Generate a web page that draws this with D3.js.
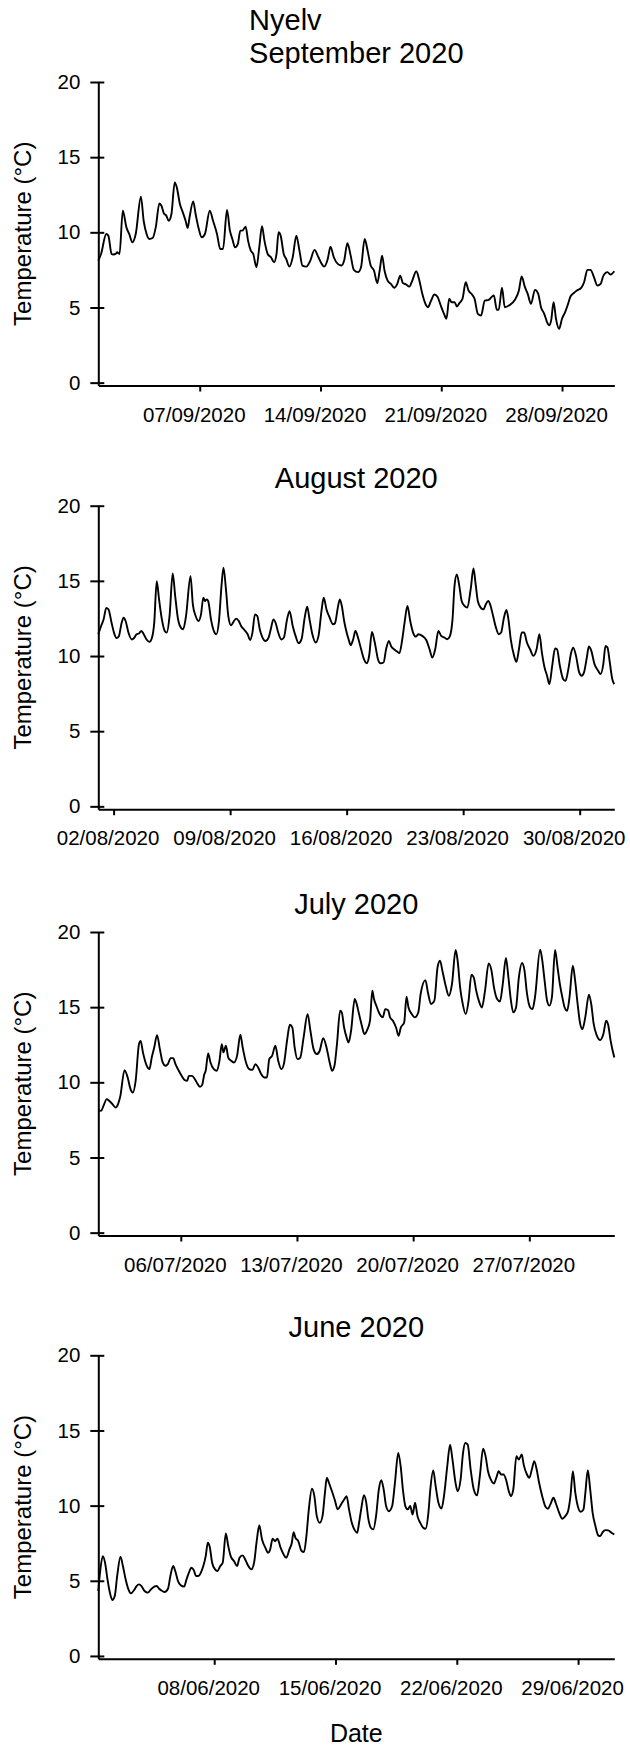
<!DOCTYPE html>
<html><head><meta charset="utf-8">
<script src="https://cdn.jsdelivr.net/npm/d3@7"></script>
<style>
body{margin:0;background:#fff}
svg{display:block}
text{font-family:"Liberation Sans",Arial,Helvetica,sans-serif;fill:#000}
</style>
</head><body>
<svg id="chart" width="630" height="1746"></svg>
<script>
// ---------------- DATA ----------------
const siteName = "Nyelv";
const panelTitles = ["September 2020", "August 2020", "July 2020", "June 2020"];
const monthStarts = ["2020-09-01", "2020-08-01", "2020-07-01", "2020-06-01"];
const yTicks = [0, 5, 10, 15, 20];
const yLabel = "Temperature (°C)";
const xLabel = "Date";

const sepTicks = ["2020-09-07", "2020-09-14", "2020-09-21", "2020-09-28"];
const augTicks = ["2020-08-02", "2020-08-09", "2020-08-16", "2020-08-23", "2020-08-30"];
const julTicks = ["2020-07-06", "2020-07-13", "2020-07-20", "2020-07-27"];
const junTicks = ["2020-06-08", "2020-06-15", "2020-06-22", "2020-06-29"];

// days elapsed since the first of the month, and water temperature (°C)
const sepDay = [0.12,0.28,0.58,0.70,0.89,0.98,1.17,1.21,1.35,1.54,1.75,1.91,2.10,2.29,2.59,2.75,2.92,3.08,3.27,3.45,3.66,3.78,3.92,4.06,4.20,4.36,4.55,4.67,4.85,5.02,5.18,5.30,5.41,5.62,5.76,5.93,6.11,6.30,6.58,6.77,7.00,7.19,7.35,7.58,7.75,7.89,8.05,8.21,8.35,8.47,8.66,8.80,8.96,9.10,9.29,9.45,9.61,9.75,9.94,10.13,10.31,10.45,10.57,10.69,10.87,11.01,11.20,11.39,11.60,11.78,11.95,12.18,12.41,12.65,12.88,13.07,13.21,13.42,13.58,13.77,14.00,14.23,14.37,14.56,14.75,14.93,15.17,15.35,15.56,15.73,15.91,16.10,16.29,16.43,16.57,16.71,16.89,17.08,17.27,17.45,17.62,17.78,17.97,18.15,18.32,18.55,18.71,18.90,19.13,19.23,19.41,19.60,19.79,19.97,20.16,20.30,20.46,20.60,20.77,20.91,21.05,21.23,21.42,21.58,21.75,21.93,22.12,22.31,22.52,22.75,22.91,23.05,23.22,23.33,23.52,23.68,23.92,24.27,24.50,24.66,24.85,25.01,25.20,25.43,25.62,25.78,25.97,26.13,26.27,26.37,26.51,26.65,26.83,27.00,27.18,27.35,27.49,27.67,27.86,28.11,28.28,28.47,28.65,28.84,29.05,29.24,29.40,29.63,29.82,30.03];
const sepTemp = [8.12,8.56,9.89,9.78,8.56,8.52,8.61,8.67,8.56,11.44,10.33,9.89,9.34,9.89,12.37,10.77,9.89,9.56,9.62,10.33,11.92,11.77,11.26,11.11,10.77,11.22,13.32,12.99,11.88,11.33,10.77,10.29,11.0,12.06,11.22,10.29,9.67,9.89,11.44,10.77,9.89,8.89,8.89,11.48,10.11,9.56,9.0,9.23,10.11,10.11,10.38,9.45,8.78,8.56,7.68,9.0,10.4,9.45,8.56,8.34,8.01,8.56,10.0,9.78,8.56,8.23,7.72,8.34,9.78,8.78,7.79,7.72,8.12,8.83,8.34,7.9,7.72,8.23,9.05,8.34,7.9,7.79,8.12,9.27,8.45,7.5,7.35,7.68,9.56,8.78,7.79,7.46,6.62,7.46,8.45,7.46,6.79,6.57,6.31,6.57,7.12,6.62,6.53,6.39,6.79,7.41,6.9,5.91,5.13,5.02,5.46,5.86,5.69,5.13,4.58,4.25,5.58,5.35,5.35,5.07,5.29,5.58,6.68,6.13,5.91,5.58,4.58,4.47,5.46,5.51,5.69,5.8,4.85,4.85,6.31,5.02,5.13,5.51,6.13,7.06,6.35,5.91,5.24,6.17,5.91,5.02,4.58,4.03,3.81,4.14,5.35,4.25,3.58,4.25,4.69,5.24,5.73,5.95,6.13,6.31,6.68,7.5,7.5,7.06,6.46,6.57,7.12,7.35,7.19,7.41];

const augDay = [0.08,0.25,0.40,0.56,0.69,0.88,1.02,1.17,1.31,1.48,1.60,1.73,1.89,2.09,2.23,2.38,2.52,2.67,2.81,2.98,3.15,3.30,3.44,3.59,3.73,3.90,4.07,4.19,4.36,4.55,4.70,4.87,5.04,5.18,5.35,5.62,5.76,5.93,6.10,6.25,6.39,6.49,6.59,6.68,6.85,7.02,7.17,7.33,7.48,7.60,7.75,7.89,8.06,8.23,8.37,8.52,8.66,8.86,9.05,9.20,9.34,9.49,9.63,9.78,9.92,10.12,10.31,10.45,10.60,10.74,10.89,11.08,11.23,11.42,11.57,11.76,11.93,12.12,12.29,12.48,12.63,12.77,12.94,13.14,13.31,13.50,13.62,13.79,13.98,14.18,14.30,14.47,14.59,14.71,14.85,15.00,15.12,15.24,15.39,15.53,15.68,15.87,16.04,16.21,16.35,16.52,16.69,16.88,17.03,17.22,17.37,17.54,17.68,17.85,18.05,18.17,18.34,18.48,18.65,18.82,18.99,19.16,19.30,19.54,19.79,19.98,20.15,20.32,20.51,20.68,20.87,21.04,21.19,21.36,21.48,21.62,21.77,21.91,22.08,22.25,22.45,22.62,22.74,22.88,23.05,23.22,23.36,23.51,23.65,23.80,23.97,24.14,24.28,24.45,24.60,24.72,24.86,25.06,25.20,25.35,25.52,25.66,25.83,26.02,26.22,26.41,26.58,26.73,26.89,27.04,27.18,27.35,27.52,27.64,27.81,28.01,28.15,28.32,28.49,28.61,28.78,28.97,29.12,29.26,29.43,29.55,29.70,29.89,30.11,30.26,30.42,30.55,30.67,30.81,30.96,31.08];
const augTemp = [11.45,12.0,12.44,13.2,13.1,12.2,11.56,11.2,11.3,12.2,12.55,12.3,11.56,11.1,11.2,11.45,11.5,11.67,11.45,11.1,10.94,11.2,12.2,14.98,13.77,12.44,11.67,11.56,12.66,15.49,13.99,12.44,11.89,11.78,12.66,15.31,13.44,12.66,12.33,12.77,13.88,13.66,13.77,13.66,12.44,11.67,11.45,12.33,14.65,15.87,14.43,12.66,12.04,12.33,12.49,12.33,12.0,11.73,11.45,11.07,11.56,12.77,12.66,11.78,11.29,11.0,11.23,11.82,12.44,12.18,11.56,11.1,11.23,12.44,12.99,12.0,11.34,10.85,11.12,12.55,13.28,12.44,11.45,10.9,11.34,13.1,13.88,13.1,12.55,12.11,12.18,13.22,13.77,13.33,12.33,11.56,11.1,10.72,11.1,11.67,11.23,10.45,9.79,9.52,10.0,11.6,10.9,9.79,9.52,9.57,10.45,11.0,10.63,10.45,10.28,10.19,11.1,12.22,13.33,12.33,11.56,11.29,11.45,11.34,11.05,10.45,9.9,10.45,11.67,11.34,11.23,11.12,11.29,12.44,14.65,15.43,14.65,13.66,13.33,13.22,14.43,15.82,14.87,13.66,13.22,13.1,13.44,13.66,13.33,12.66,11.89,11.45,11.56,12.55,13.06,12.44,11.1,10.01,9.61,10.45,11.56,11.56,10.9,10.45,10.01,10.45,11.45,10.23,9.24,8.69,8.13,9.35,10.5,10.45,9.35,8.46,8.35,9.13,10.23,10.56,10.01,8.91,8.69,8.91,9.9,10.63,10.34,9.46,9.02,8.8,9.46,10.67,10.56,9.57,8.46,8.13];

const julDay = [0.03,0.20,0.34,0.54,0.68,0.88,1.07,1.22,1.36,1.61,1.80,1.97,2.11,2.28,2.48,2.58,2.72,2.91,3.11,3.25,3.40,3.57,3.74,3.91,4.08,4.22,4.39,4.54,4.68,4.88,5.05,5.24,5.39,5.48,5.68,5.85,6.02,6.16,6.29,6.41,6.50,6.65,6.79,6.99,7.18,7.33,7.47,7.57,7.72,7.86,8.03,8.20,8.39,8.59,8.73,8.93,9.12,9.32,9.49,9.66,9.85,10.04,10.19,10.33,10.50,10.70,10.87,11.06,11.21,11.40,11.57,11.72,11.86,12.03,12.20,12.40,12.64,12.81,13.00,13.20,13.37,13.58,13.78,13.97,14.12,14.26,14.41,14.60,14.70,14.84,14.99,15.11,15.26,15.48,15.57,15.74,15.91,16.06,16.25,16.40,16.54,16.64,16.78,16.98,17.17,17.32,17.49,17.61,17.78,17.97,18.12,18.26,18.46,18.60,18.72,18.92,19.11,19.31,19.45,19.74,19.89,20.08,20.28,20.47,20.62,20.76,20.96,21.15,21.34,21.56,21.68,21.83,21.97,22.17,22.34,22.51,22.65,22.80,22.99,23.14,23.33,23.55,23.72,23.87,24.06,24.23,24.40,24.59,24.74,24.88,25.03,25.20,25.37,25.56,25.71,25.85,26.05,26.19,26.34,26.65,26.77,26.92,27.07,27.21,27.36,27.55,27.70,27.84,27.99,28.13,28.28,28.42,28.62,28.76,28.91,29.05,29.20,29.37,29.59,29.73,29.88,30.07,30.27,30.46,30.63,30.75,30.90,31.12];
const julTemp = [8.15,8.1,8.43,8.88,8.77,8.55,8.32,8.55,9.1,10.81,10.32,9.55,9.32,10.1,12.54,12.76,11.99,11.21,10.88,11.65,12.32,13.14,12.21,11.32,11.1,11.21,11.61,11.61,11.21,10.77,10.43,10.14,10.1,10.43,10.43,10.21,9.88,9.7,9.83,10.5,10.77,11.92,11.32,10.88,10.77,11.43,12.54,11.99,12.43,11.65,11.43,11.32,11.76,13.16,12.32,11.32,10.88,10.83,11.21,10.99,10.54,10.32,10.32,11.54,11.76,12.43,11.43,10.88,11.21,12.76,13.83,13.65,12.32,11.54,11.65,12.99,14.54,13.43,12.21,11.88,12.1,12.94,12.32,11.32,10.77,11.1,12.54,14.76,14.65,13.65,12.99,12.65,13.43,15.54,15.32,14.54,13.76,13.21,13.54,14.1,16.09,15.54,15.1,14.54,14.32,14.87,14.8,14.32,14.1,13.65,13.1,13.65,13.98,15.69,14.98,14.54,14.32,14.65,15.87,16.8,15.98,15.21,15.43,17.65,18.09,17.43,16.43,15.76,16.54,18.8,18.09,16.32,15.32,14.54,15.43,17.16,16.98,16.09,15.32,14.98,16.09,17.91,17.43,16.32,15.54,15.38,16.54,18.27,16.98,15.54,14.65,14.98,16.98,17.94,17.43,15.98,14.98,14.87,15.65,18.82,18.2,16.76,15.43,15.1,15.65,18.8,17.65,16.54,15.65,14.98,14.76,15.65,17.76,16.76,15.21,13.98,13.54,14.32,15.83,15.21,13.87,13.1,12.81,13.21,14.1,13.83,12.76,11.65];

const junDay = [0.31,0.43,0.57,0.70,0.84,0.98,1.12,1.26,1.40,1.59,1.73,1.89,2.05,2.19,2.38,2.52,2.66,2.80,2.98,3.17,3.35,3.54,3.68,3.82,4.00,4.14,4.33,4.47,4.63,4.75,4.91,5.07,5.26,5.40,5.54,5.68,5.82,5.95,6.09,6.23,6.37,6.51,6.63,6.74,6.88,7.05,7.19,7.35,7.49,7.67,7.81,7.95,8.14,8.32,8.46,8.63,8.79,8.95,9.14,9.30,9.44,9.60,9.76,9.95,10.11,10.23,10.37,10.51,10.65,10.83,11.00,11.16,11.34,11.48,11.58,11.69,11.85,12.04,12.18,12.32,12.46,12.64,12.78,12.92,13.09,13.25,13.39,13.50,13.62,13.76,13.95,14.13,14.32,14.50,14.64,14.78,14.94,15.11,15.25,15.36,15.48,15.64,15.76,15.90,16.04,16.18,16.34,16.50,16.64,16.78,16.92,17.08,17.27,17.43,17.62,17.76,17.89,18.03,18.17,18.31,18.45,18.59,18.73,18.89,19.06,19.20,19.36,19.47,19.64,19.78,19.94,20.12,20.26,20.45,20.61,20.75,20.91,21.05,21.22,21.36,21.49,21.63,21.80,21.98,22.17,22.33,22.52,22.66,22.80,22.96,23.14,23.28,23.42,23.56,23.70,23.84,24.00,24.12,24.26,24.44,24.58,24.75,24.86,25.05,25.19,25.33,25.47,25.61,25.75,25.93,26.12,26.26,26.40,26.58,26.72,26.91,27.09,27.26,27.42,27.56,27.70,27.84,27.98,28.14,28.31,28.42,28.56,28.70,28.84,29.00,29.16,29.28,29.42,29.58,29.74,29.93,30.09];
const junTemp = [4.32,5.76,6.64,6.2,5.09,4.21,3.72,3.99,5.32,6.6,5.98,5.09,4.43,4.16,4.39,4.65,4.76,4.65,4.32,4.21,4.43,4.61,4.65,4.47,4.32,4.25,4.47,5.32,5.98,5.65,4.98,4.7,4.61,5.09,5.54,5.87,5.71,5.32,5.32,5.54,5.98,6.64,7.53,7.26,6.2,5.76,5.65,5.98,6.2,8.15,7.31,6.64,6.31,5.98,6.53,6.69,6.42,6.02,5.76,6.2,7.53,8.68,7.75,7.2,6.87,7.09,7.8,7.64,7.8,7.2,6.76,6.53,7.09,7.53,8.24,7.86,7.64,6.98,6.91,7.97,9.75,11.12,10.63,9.3,8.86,9.3,10.85,11.85,11.52,11.07,10.41,9.75,10.08,10.41,10.63,9.75,8.86,8.37,8.19,8.86,9.75,10.7,10.3,9.08,8.53,8.42,9.3,11.07,11.69,11.07,9.97,9.63,9.97,11.52,13.51,12.62,11.07,9.97,9.75,9.97,9.41,10.19,9.3,8.86,8.53,8.46,9.52,11.07,12.34,11.3,10.19,9.81,10.63,12.62,14.06,13.07,11.63,10.96,11.74,13.51,14.17,14.06,12.4,11.07,10.68,11.96,13.78,13.29,12.29,11.74,11.47,11.85,12.29,12.07,12.07,11.74,10.96,10.63,11.07,13.29,13.07,13.4,12.73,12.07,11.85,12.4,12.96,12.4,11.52,10.63,9.92,9.79,10.08,10.52,10.14,9.52,9.13,9.3,9.63,10.63,12.29,10.85,9.97,9.59,9.75,10.85,12.36,11.07,9.52,8.64,8.02,7.97,8.24,8.37,8.35,8.19,8.08];

// ---------------- CHART ----------------
const svg = d3.select("#chart");
const parseDay = d3.timeParse("%Y-%m-%d");
const fmt = d3.timeFormat("%d/%m/%Y");
const DAY = 86400000;

const series = [
  {title: panelTitles[0], start: monthStarts[0], days: sepDay, temps: sepTemp, ticks: sepTicks},
  {title: panelTitles[1], start: monthStarts[1], days: augDay, temps: augTemp, ticks: augTicks},
  {title: panelTitles[2], start: monthStarts[2], days: julDay, temps: julTemp, ticks: julTicks},
  {title: panelTitles[3], start: monthStarts[3], days: junDay, temps: junTemp, ticks: junTicks}
];

const plotLeft = 98.3, plotRight = 614.3;
const panelTops = [82, 505.7, 932, 1355.3];
const plotH = 303.5;
const centerX = (plotLeft + plotRight) / 2;

series.forEach((s, i) => {
  const t0 = parseDay(s.start).getTime();
  const pts = s.days.map((d, k) => ({t: new Date(t0 + d * DAY), v: s.temps[k]}));
  const top = panelTops[i], bottom = top + plotH;

  const x = d3.scaleTime().domain(d3.extent(pts, p => p.t)).range([plotLeft, plotRight]);
  const y = d3.scaleLinear().domain([-0.19, 20]).range([bottom, top]);

  const g = svg.append("g");

  // y axis
  const ya = g.append("g").attr("transform", `translate(${plotLeft},0)`)
    .call(d3.axisLeft(y).tickValues(yTicks).tickSizeInner(8).tickSizeOuter(0).tickPadding(10));
  ya.select(".domain").attr("stroke", "#000").attr("stroke-width", 2);
  ya.selectAll(".tick line").attr("x1", 6).attr("stroke", "#000").attr("stroke-width", 2);
  ya.selectAll(".tick text").attr("font-size", "20.5px")
    .style("font-family", '"Liberation Sans", Arial, sans-serif').attr("fill", "#000");

  // x axis
  const xa = g.append("g").attr("transform", `translate(0,${bottom})`)
    .call(d3.axisBottom(x).tickValues(s.ticks.map(parseDay)).tickFormat(fmt)
      .tickSizeInner(6).tickSizeOuter(0));
  xa.select(".domain").attr("stroke", "#000").attr("stroke-width", 2);
  xa.selectAll(".tick line").attr("stroke", "#000").attr("stroke-width", 2);
  xa.selectAll(".tick text").attr("font-size", "20.5px")
    .style("font-family", '"Liberation Sans", Arial, sans-serif').attr("fill", "#000")
    .attr("dy", null).attr("y", 36).attr("x", -6);

  // line
  const line = d3.line().x(p => x(p.t)).y(p => y(p.v)).curve(d3.curveMonotoneX);
  g.append("path").datum(pts).attr("d", line)
    .attr("fill", "none").attr("stroke", "#000").attr("stroke-width", 1.9)
    .attr("stroke-linejoin", "round");

  // y label
  g.append("text")
    .attr("transform", `translate(31,${(top + bottom) / 2}) rotate(-90)`)
    .attr("text-anchor", "middle").attr("font-size", "24px").text(yLabel);

  // title
  if (i === 0) {
    const l2 = g.append("text").attr("y", top - 18.7).attr("font-size", "29px").text(s.title);
    const w = l2.node().getComputedTextLength();
    const left = centerX - w / 2;
    l2.attr("x", left);
    g.append("text").attr("x", left).attr("y", top - 52).attr("font-size", "29px").text(siteName);
  } else {
    g.append("text").attr("x", centerX).attr("y", top - 18)
      .attr("text-anchor", "middle").attr("font-size", "29px").text(s.title);
  }
});

svg.append("text").attr("x", centerX).attr("y", 1741.7)
  .attr("text-anchor", "middle").attr("font-size", "25px").text(xLabel);
</script>
</body></html>
